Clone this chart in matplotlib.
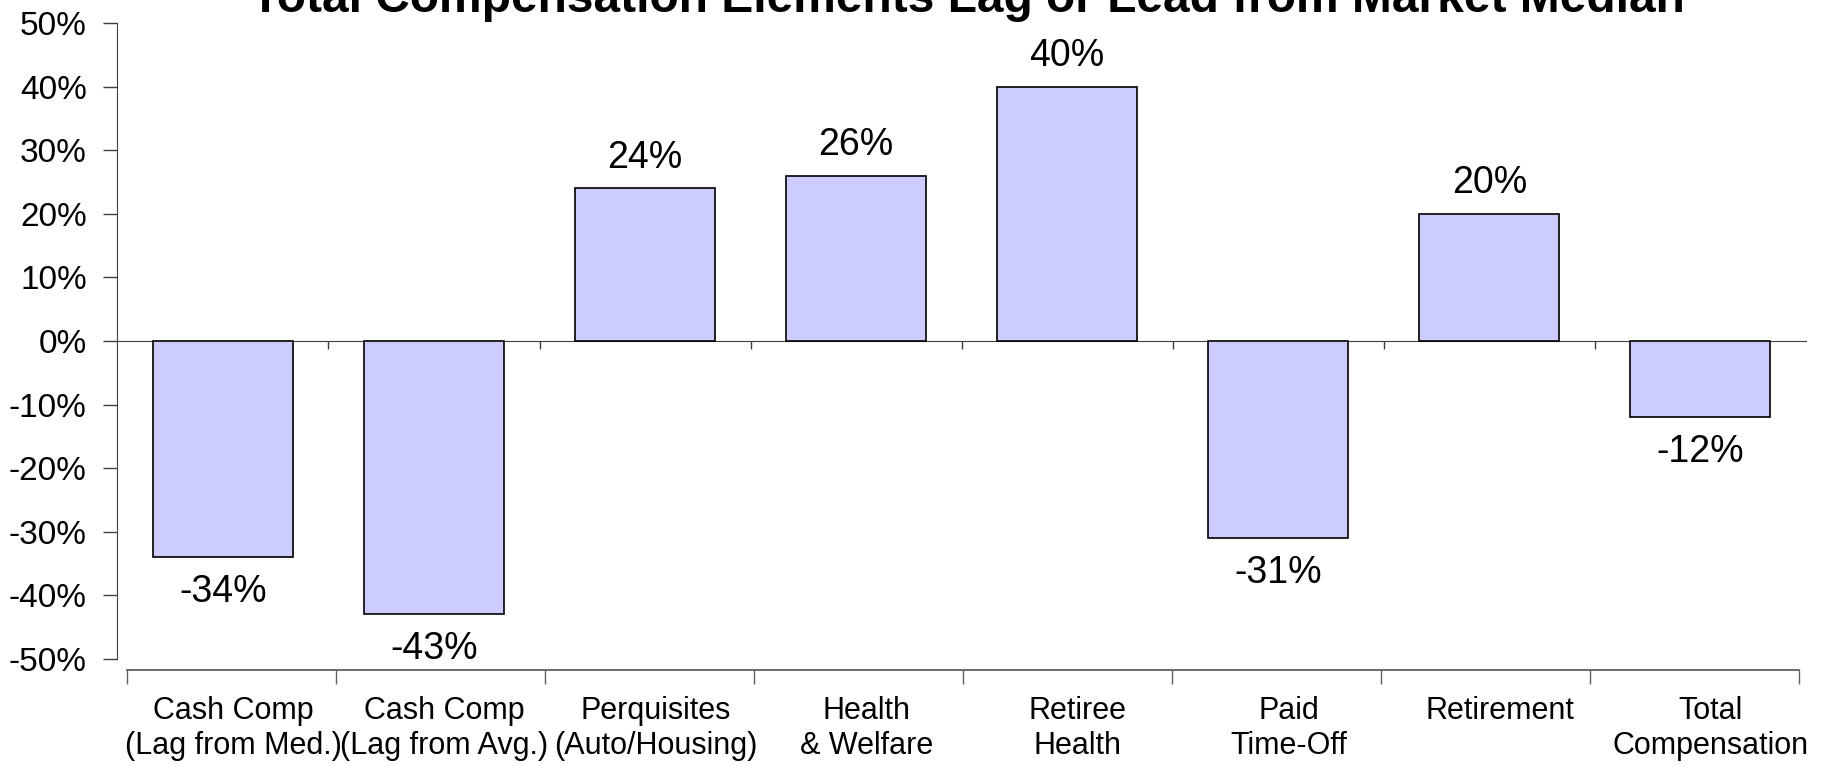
import matplotlib
matplotlib.use("Agg")
from matplotlib import pyplot as plt
from matplotlib.ticker import FuncFormatter, FixedLocator
from matplotlib.transforms import blended_transform_factory
import numpy as np

plt.rcParams['font.family'] = ['Liberation Sans', 'DejaVu Sans']

categories = [
    "Cash Comp\n(Lag from Med.)",
    "Cash Comp\n(Lag from Avg.)",
    "Perquisites\n(Auto/Housing)",
    "Health\n& Welfare",
    "Retiree\nHealth",
    "Paid\nTime-Off",
    "Retirement",
    "Total\nCompensation",
]
values = [-34, -43, 24, 26, 40, -31, 20, -12]
y_ticks = [-50, -40, -30, -20, -10, 0, 10, 20, 30, 40, 50]

fig = plt.figure(figsize=(18.26, 7.66), dpi=100)

# main bar axes
ax = fig.add_axes([0.0643, 0.1397, 0.9247, 0.8303])
x = np.arange(len(values))
ax.bar(x, values, width=0.663, color='#CCCCFF', edgecolor='black', linewidth=1.2, zorder=3)

ax.set_xlim(-0.5, len(values) - 0.5)
ax.set_ylim(-50, 50)
ax.yaxis.set_major_locator(FixedLocator(y_ticks))
ax.yaxis.set_major_formatter(FuncFormatter(lambda v, p: f"{v:.0f}%"))
ax.tick_params(axis='y', direction='out', length=10, width=1, pad=12, labelsize=24, color='#404040')

ax.spines['top'].set_visible(False)
ax.spines['right'].set_visible(False)
ax.spines['left'].set_color('#404040')
ax.spines['bottom'].set_position(('data', 0))
ax.spines['bottom'].set_color('#404040')
ax.xaxis.set_major_locator(FixedLocator(x[:-1] + 0.5))
ax.tick_params(axis='x', direction='out', length=6, width=1, labelbottom=False, color='#404040')

for xi, v in zip(x, values):
    off = 9 if v >= 0 else -12
    ax.annotate(f"{v}%", (xi, v), xytext=(0, off), textcoords='offset points',
                ha='center', va='bottom' if v >= 0 else 'top', fontsize=27)

fig.text(0.530, 0.984, "Total Compensation Elements Lag or Lead from Market Median",
         fontsize=34.5, fontweight='bold', ha='center', va='baseline')

# separate category axis line at the bottom
cax = fig.add_axes([0.0696, 0.1253, 0.9157, 0.0001])
cax.set_xlim(0, len(categories))
cax.set_ylim(0, 1)
for s in ['top', 'left', 'right']:
    cax.spines[s].set_visible(False)
cax.spines['bottom'].set_color('#606060')
cax.spines['bottom'].set_linewidth(1.3)
cax.set_yticks([])
cax.xaxis.set_major_locator(FixedLocator(np.arange(len(categories) + 1)))
cax.tick_params(axis='x', which='major', direction='out', length=10, width=1, color='#606060', labelbottom=False)
cax.patch.set_visible(False)

# category labels under each bar
trans = blended_transform_factory(ax.transData, fig.transFigure)
for xi, lab in zip(x, categories):
    ax.text(xi + 0.05, 0.091, lab, transform=trans, ha='center', va='top',
            fontsize=22, linespacing=1.2, clip_on=False)

fig.savefig('out.png', dpi=100)
